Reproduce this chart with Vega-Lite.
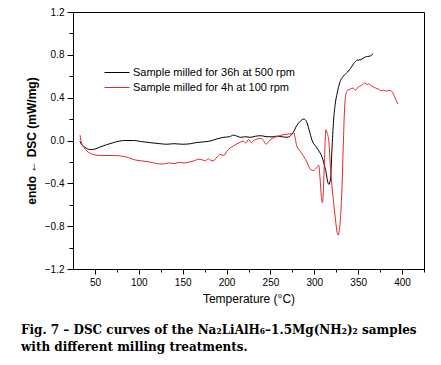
{
  "$schema": "https://vega.github.io/schema/vega-lite/v6.json",
  "width": 351,
  "height": 257,
  "autosize": "none",
  "padding": {"left": 73, "top": 12, "right": 17, "bottom": 96},
  "background": "white",
  "config": {
    "view": {"stroke": "black", "strokeWidth": 1},
    "axis": {"labelFont": "Liberation Sans", "titleFont": "Liberation Sans", "labelColor": "black", "titleColor": "black", "domainColor": "black", "tickColor": "black", "grid": false}
  },
  "title": {
    "text": ["Fig. 7 – DSC curves of the Na₂LiAlH₆–1.5Mg(NH₂)₂ samples", "with different milling treatments."],
    "orient": "bottom",
    "anchor": "start",
    "frame": "group",
    "font": "DejaVu Serif",
    "fontWeight": "bold",
    "fontSize": 12,
    "lineHeight": 17,
    "dx": -52,
    "offset": 21,
    "color": "black"
  },
  "data": {"values": [
    {"sample": "Sample milled for 36h at 500 rpm", "T": 33, "DSC": -0.01},
    {"sample": "Sample milled for 36h at 500 rpm", "T": 35, "DSC": -0.04},
    {"sample": "Sample milled for 36h at 500 rpm", "T": 38, "DSC": -0.06},
    {"sample": "Sample milled for 36h at 500 rpm", "T": 42, "DSC": -0.08},
    {"sample": "Sample milled for 36h at 500 rpm", "T": 46, "DSC": -0.085},
    {"sample": "Sample milled for 36h at 500 rpm", "T": 50, "DSC": -0.08},
    {"sample": "Sample milled for 36h at 500 rpm", "T": 56, "DSC": -0.06},
    {"sample": "Sample milled for 36h at 500 rpm", "T": 63, "DSC": -0.04},
    {"sample": "Sample milled for 36h at 500 rpm", "T": 71, "DSC": -0.02},
    {"sample": "Sample milled for 36h at 500 rpm", "T": 78, "DSC": -0.005},
    {"sample": "Sample milled for 36h at 500 rpm", "T": 85, "DSC": 0.0},
    {"sample": "Sample milled for 36h at 500 rpm", "T": 94, "DSC": 0.0},
    {"sample": "Sample milled for 36h at 500 rpm", "T": 103, "DSC": -0.01},
    {"sample": "Sample milled for 36h at 500 rpm", "T": 113, "DSC": -0.02},
    {"sample": "Sample milled for 36h at 500 rpm", "T": 124, "DSC": -0.03},
    {"sample": "Sample milled for 36h at 500 rpm", "T": 132, "DSC": -0.035},
    {"sample": "Sample milled for 36h at 500 rpm", "T": 140, "DSC": -0.03},
    {"sample": "Sample milled for 36h at 500 rpm", "T": 150, "DSC": -0.035},
    {"sample": "Sample milled for 36h at 500 rpm", "T": 159, "DSC": -0.03},
    {"sample": "Sample milled for 36h at 500 rpm", "T": 165, "DSC": -0.02},
    {"sample": "Sample milled for 36h at 500 rpm", "T": 172, "DSC": -0.015},
    {"sample": "Sample milled for 36h at 500 rpm", "T": 181, "DSC": -0.005},
    {"sample": "Sample milled for 36h at 500 rpm", "T": 189, "DSC": 0.015},
    {"sample": "Sample milled for 36h at 500 rpm", "T": 197, "DSC": 0.03},
    {"sample": "Sample milled for 36h at 500 rpm", "T": 203, "DSC": 0.035},
    {"sample": "Sample milled for 36h at 500 rpm", "T": 208, "DSC": 0.05},
    {"sample": "Sample milled for 36h at 500 rpm", "T": 212, "DSC": 0.04},
    {"sample": "Sample milled for 36h at 500 rpm", "T": 216, "DSC": 0.03},
    {"sample": "Sample milled for 36h at 500 rpm", "T": 222, "DSC": 0.035},
    {"sample": "Sample milled for 36h at 500 rpm", "T": 227, "DSC": 0.03},
    {"sample": "Sample milled for 36h at 500 rpm", "T": 233, "DSC": 0.04},
    {"sample": "Sample milled for 36h at 500 rpm", "T": 239, "DSC": 0.045},
    {"sample": "Sample milled for 36h at 500 rpm", "T": 246, "DSC": 0.035},
    {"sample": "Sample milled for 36h at 500 rpm", "T": 252, "DSC": 0.035},
    {"sample": "Sample milled for 36h at 500 rpm", "T": 257, "DSC": 0.04},
    {"sample": "Sample milled for 36h at 500 rpm", "T": 263, "DSC": 0.035},
    {"sample": "Sample milled for 36h at 500 rpm", "T": 269, "DSC": 0.03},
    {"sample": "Sample milled for 36h at 500 rpm", "T": 273, "DSC": 0.045},
    {"sample": "Sample milled for 36h at 500 rpm", "T": 276, "DSC": 0.075},
    {"sample": "Sample milled for 36h at 500 rpm", "T": 280, "DSC": 0.14},
    {"sample": "Sample milled for 36h at 500 rpm", "T": 284, "DSC": 0.18},
    {"sample": "Sample milled for 36h at 500 rpm", "T": 288, "DSC": 0.2},
    {"sample": "Sample milled for 36h at 500 rpm", "T": 291, "DSC": 0.18},
    {"sample": "Sample milled for 36h at 500 rpm", "T": 294, "DSC": 0.1},
    {"sample": "Sample milled for 36h at 500 rpm", "T": 297.5, "DSC": 0.0},
    {"sample": "Sample milled for 36h at 500 rpm", "T": 303, "DSC": -0.07},
    {"sample": "Sample milled for 36h at 500 rpm", "T": 309, "DSC": -0.16},
    {"sample": "Sample milled for 36h at 500 rpm", "T": 312.7, "DSC": -0.27},
    {"sample": "Sample milled for 36h at 500 rpm", "T": 316.5, "DSC": -0.41},
    {"sample": "Sample milled for 36h at 500 rpm", "T": 318.5, "DSC": -0.36},
    {"sample": "Sample milled for 36h at 500 rpm", "T": 320, "DSC": -0.1},
    {"sample": "Sample milled for 36h at 500 rpm", "T": 322, "DSC": 0.19},
    {"sample": "Sample milled for 36h at 500 rpm", "T": 324, "DSC": 0.35},
    {"sample": "Sample milled for 36h at 500 rpm", "T": 326, "DSC": 0.44},
    {"sample": "Sample milled for 36h at 500 rpm", "T": 329, "DSC": 0.54},
    {"sample": "Sample milled for 36h at 500 rpm", "T": 333, "DSC": 0.6},
    {"sample": "Sample milled for 36h at 500 rpm", "T": 338, "DSC": 0.64},
    {"sample": "Sample milled for 36h at 500 rpm", "T": 341, "DSC": 0.67},
    {"sample": "Sample milled for 36h at 500 rpm", "T": 345, "DSC": 0.72},
    {"sample": "Sample milled for 36h at 500 rpm", "T": 349, "DSC": 0.75},
    {"sample": "Sample milled for 36h at 500 rpm", "T": 353, "DSC": 0.755},
    {"sample": "Sample milled for 36h at 500 rpm", "T": 358, "DSC": 0.78},
    {"sample": "Sample milled for 36h at 500 rpm", "T": 361, "DSC": 0.785},
    {"sample": "Sample milled for 36h at 500 rpm", "T": 364, "DSC": 0.79},
    {"sample": "Sample milled for 36h at 500 rpm", "T": 367, "DSC": 0.81},
    {"sample": "Sample milled for 4h at 100 rpm", "T": 33, "DSC": 0.05},
    {"sample": "Sample milled for 4h at 100 rpm", "T": 34, "DSC": 0.0},
    {"sample": "Sample milled for 4h at 100 rpm", "T": 35.5, "DSC": -0.04},
    {"sample": "Sample milled for 4h at 100 rpm", "T": 38, "DSC": -0.07},
    {"sample": "Sample milled for 4h at 100 rpm", "T": 41, "DSC": -0.1},
    {"sample": "Sample milled for 4h at 100 rpm", "T": 45, "DSC": -0.12},
    {"sample": "Sample milled for 4h at 100 rpm", "T": 50, "DSC": -0.135},
    {"sample": "Sample milled for 4h at 100 rpm", "T": 57, "DSC": -0.14},
    {"sample": "Sample milled for 4h at 100 rpm", "T": 65, "DSC": -0.14},
    {"sample": "Sample milled for 4h at 100 rpm", "T": 72, "DSC": -0.14},
    {"sample": "Sample milled for 4h at 100 rpm", "T": 80, "DSC": -0.145},
    {"sample": "Sample milled for 4h at 100 rpm", "T": 88, "DSC": -0.16},
    {"sample": "Sample milled for 4h at 100 rpm", "T": 95, "DSC": -0.18},
    {"sample": "Sample milled for 4h at 100 rpm", "T": 103, "DSC": -0.19},
    {"sample": "Sample milled for 4h at 100 rpm", "T": 112, "DSC": -0.2},
    {"sample": "Sample milled for 4h at 100 rpm", "T": 120, "DSC": -0.215},
    {"sample": "Sample milled for 4h at 100 rpm", "T": 127, "DSC": -0.22},
    {"sample": "Sample milled for 4h at 100 rpm", "T": 134, "DSC": -0.21},
    {"sample": "Sample milled for 4h at 100 rpm", "T": 140, "DSC": -0.215},
    {"sample": "Sample milled for 4h at 100 rpm", "T": 146, "DSC": -0.205},
    {"sample": "Sample milled for 4h at 100 rpm", "T": 152, "DSC": -0.21},
    {"sample": "Sample milled for 4h at 100 rpm", "T": 158, "DSC": -0.2},
    {"sample": "Sample milled for 4h at 100 rpm", "T": 163, "DSC": -0.19},
    {"sample": "Sample milled for 4h at 100 rpm", "T": 168, "DSC": -0.175},
    {"sample": "Sample milled for 4h at 100 rpm", "T": 172, "DSC": -0.18},
    {"sample": "Sample milled for 4h at 100 rpm", "T": 176, "DSC": -0.19},
    {"sample": "Sample milled for 4h at 100 rpm", "T": 179, "DSC": -0.17},
    {"sample": "Sample milled for 4h at 100 rpm", "T": 182, "DSC": -0.185},
    {"sample": "Sample milled for 4h at 100 rpm", "T": 185, "DSC": -0.19},
    {"sample": "Sample milled for 4h at 100 rpm", "T": 189, "DSC": -0.155},
    {"sample": "Sample milled for 4h at 100 rpm", "T": 193, "DSC": -0.13},
    {"sample": "Sample milled for 4h at 100 rpm", "T": 197, "DSC": -0.14},
    {"sample": "Sample milled for 4h at 100 rpm", "T": 200, "DSC": -0.105},
    {"sample": "Sample milled for 4h at 100 rpm", "T": 204, "DSC": -0.07},
    {"sample": "Sample milled for 4h at 100 rpm", "T": 208, "DSC": -0.05},
    {"sample": "Sample milled for 4h at 100 rpm", "T": 212, "DSC": -0.03},
    {"sample": "Sample milled for 4h at 100 rpm", "T": 216, "DSC": -0.015},
    {"sample": "Sample milled for 4h at 100 rpm", "T": 219, "DSC": -0.005},
    {"sample": "Sample milled for 4h at 100 rpm", "T": 222, "DSC": -0.025},
    {"sample": "Sample milled for 4h at 100 rpm", "T": 225, "DSC": 0.01},
    {"sample": "Sample milled for 4h at 100 rpm", "T": 228, "DSC": -0.02},
    {"sample": "Sample milled for 4h at 100 rpm", "T": 231, "DSC": 0.0},
    {"sample": "Sample milled for 4h at 100 rpm", "T": 235, "DSC": 0.015},
    {"sample": "Sample milled for 4h at 100 rpm", "T": 239, "DSC": 0.02},
    {"sample": "Sample milled for 4h at 100 rpm", "T": 242, "DSC": 0.0},
    {"sample": "Sample milled for 4h at 100 rpm", "T": 245, "DSC": -0.035},
    {"sample": "Sample milled for 4h at 100 rpm", "T": 248, "DSC": -0.01},
    {"sample": "Sample milled for 4h at 100 rpm", "T": 251, "DSC": 0.015},
    {"sample": "Sample milled for 4h at 100 rpm", "T": 255, "DSC": 0.03},
    {"sample": "Sample milled for 4h at 100 rpm", "T": 260, "DSC": 0.045},
    {"sample": "Sample milled for 4h at 100 rpm", "T": 265, "DSC": 0.055},
    {"sample": "Sample milled for 4h at 100 rpm", "T": 270, "DSC": 0.06},
    {"sample": "Sample milled for 4h at 100 rpm", "T": 274, "DSC": 0.065},
    {"sample": "Sample milled for 4h at 100 rpm", "T": 276.5, "DSC": 0.075},
    {"sample": "Sample milled for 4h at 100 rpm", "T": 278, "DSC": 0.03},
    {"sample": "Sample milled for 4h at 100 rpm", "T": 280, "DSC": -0.05},
    {"sample": "Sample milled for 4h at 100 rpm", "T": 284, "DSC": -0.1},
    {"sample": "Sample milled for 4h at 100 rpm", "T": 288, "DSC": -0.15},
    {"sample": "Sample milled for 4h at 100 rpm", "T": 292, "DSC": -0.21},
    {"sample": "Sample milled for 4h at 100 rpm", "T": 295.5, "DSC": -0.27},
    {"sample": "Sample milled for 4h at 100 rpm", "T": 299, "DSC": -0.28},
    {"sample": "Sample milled for 4h at 100 rpm", "T": 301, "DSC": -0.27},
    {"sample": "Sample milled for 4h at 100 rpm", "T": 303, "DSC": -0.25},
    {"sample": "Sample milled for 4h at 100 rpm", "T": 305, "DSC": -0.23},
    {"sample": "Sample milled for 4h at 100 rpm", "T": 306.5, "DSC": -0.35},
    {"sample": "Sample milled for 4h at 100 rpm", "T": 308, "DSC": -0.52},
    {"sample": "Sample milled for 4h at 100 rpm", "T": 309, "DSC": -0.58},
    {"sample": "Sample milled for 4h at 100 rpm", "T": 310, "DSC": -0.52},
    {"sample": "Sample milled for 4h at 100 rpm", "T": 311.5, "DSC": -0.2},
    {"sample": "Sample milled for 4h at 100 rpm", "T": 313.2, "DSC": 0.1},
    {"sample": "Sample milled for 4h at 100 rpm", "T": 314.5, "DSC": 0.07},
    {"sample": "Sample milled for 4h at 100 rpm", "T": 316.5, "DSC": 0.0},
    {"sample": "Sample milled for 4h at 100 rpm", "T": 318, "DSC": -0.2},
    {"sample": "Sample milled for 4h at 100 rpm", "T": 320, "DSC": -0.42},
    {"sample": "Sample milled for 4h at 100 rpm", "T": 322, "DSC": -0.58},
    {"sample": "Sample milled for 4h at 100 rpm", "T": 324, "DSC": -0.73},
    {"sample": "Sample milled for 4h at 100 rpm", "T": 326, "DSC": -0.86},
    {"sample": "Sample milled for 4h at 100 rpm", "T": 327, "DSC": -0.885},
    {"sample": "Sample milled for 4h at 100 rpm", "T": 328.5, "DSC": -0.84},
    {"sample": "Sample milled for 4h at 100 rpm", "T": 330, "DSC": -0.7},
    {"sample": "Sample milled for 4h at 100 rpm", "T": 331.5, "DSC": -0.45},
    {"sample": "Sample milled for 4h at 100 rpm", "T": 333, "DSC": -0.05},
    {"sample": "Sample milled for 4h at 100 rpm", "T": 334.5, "DSC": 0.3},
    {"sample": "Sample milled for 4h at 100 rpm", "T": 336, "DSC": 0.43},
    {"sample": "Sample milled for 4h at 100 rpm", "T": 338, "DSC": 0.47},
    {"sample": "Sample milled for 4h at 100 rpm", "T": 341, "DSC": 0.48},
    {"sample": "Sample milled for 4h at 100 rpm", "T": 344, "DSC": 0.49},
    {"sample": "Sample milled for 4h at 100 rpm", "T": 347, "DSC": 0.47},
    {"sample": "Sample milled for 4h at 100 rpm", "T": 350, "DSC": 0.5},
    {"sample": "Sample milled for 4h at 100 rpm", "T": 353, "DSC": 0.51},
    {"sample": "Sample milled for 4h at 100 rpm", "T": 356, "DSC": 0.53},
    {"sample": "Sample milled for 4h at 100 rpm", "T": 358, "DSC": 0.54},
    {"sample": "Sample milled for 4h at 100 rpm", "T": 360, "DSC": 0.52},
    {"sample": "Sample milled for 4h at 100 rpm", "T": 362, "DSC": 0.53},
    {"sample": "Sample milled for 4h at 100 rpm", "T": 364, "DSC": 0.52},
    {"sample": "Sample milled for 4h at 100 rpm", "T": 367, "DSC": 0.5},
    {"sample": "Sample milled for 4h at 100 rpm", "T": 370, "DSC": 0.49},
    {"sample": "Sample milled for 4h at 100 rpm", "T": 373, "DSC": 0.48},
    {"sample": "Sample milled for 4h at 100 rpm", "T": 376, "DSC": 0.465},
    {"sample": "Sample milled for 4h at 100 rpm", "T": 379, "DSC": 0.47},
    {"sample": "Sample milled for 4h at 100 rpm", "T": 382, "DSC": 0.46},
    {"sample": "Sample milled for 4h at 100 rpm", "T": 385, "DSC": 0.47},
    {"sample": "Sample milled for 4h at 100 rpm", "T": 388, "DSC": 0.46},
    {"sample": "Sample milled for 4h at 100 rpm", "T": 391, "DSC": 0.42},
    {"sample": "Sample milled for 4h at 100 rpm", "T": 393, "DSC": 0.38},
    {"sample": "Sample milled for 4h at 100 rpm", "T": 395.5, "DSC": 0.34}
  ]},
  "mark": {"type": "line", "strokeWidth": 1, "interpolate": "monotone"},
  "encoding": {
    "x": {
      "field": "T", "type": "quantitative",
      "scale": {"domain": [25, 425], "nice": false},
      "axis": {
        "title": "Temperature (°C)",
        "titleFontSize": 12, "titleFontWeight": "normal", "titlePadding": 6,
        "values": [50, 75, 100, 125, 150, 175, 200, 225, 250, 275, 300, 325, 350, 375, 400, 425],
        "labelExpr": "datum.value % 50 === 0 ? datum.label : ''",
        "labelFontSize": 10, "labelPadding": 3,
        "tickSize": {"condition": {"test": "datum.value % 50 === 0", "value": 5}, "value": 3},
        "labelFlush": false
      }
    },
    "y": {
      "field": "DSC", "type": "quantitative",
      "scale": {"domain": [-1.2, 1.2], "nice": false},
      "axis": {
        "title": "endo ← DSC (mW/mg)",
        "titleFontSize": 12, "titleFontWeight": "bold", "titlePadding": 6,
        "values": [-1.2, -1.0, -0.8, -0.6, -0.4, -0.2, 0, 0.2, 0.4, 0.6, 0.8, 1.0, 1.2],
        "labelExpr": "abs(round(datum.value * 10)) % 4 === 0 ? format(datum.value, '.1f') : ''",
        "labelFontSize": 10, "labelPadding": 3,
        "tickSize": {"condition": {"test": "abs(round(datum.value * 10)) % 4 === 0", "value": 6}, "value": 4},
        "labelFlush": false
      }
    },
    "color": {
      "field": "sample", "type": "nominal",
      "scale": {"domain": ["Sample milled for 36h at 500 rpm", "Sample milled for 4h at 100 rpm"], "range": ["#000000", "#e3262b"]},
      "legend": {
        "title": null, "orient": "none", "legendX": 31, "legendY": 53,
        "symbolType": "stroke", "symbolSize": 625, "symbolStrokeWidth": 1,
        "labelFont": "Liberation Sans", "labelFontSize": 11, "labelColor": "black",
        "labelOffset": 3, "rowPadding": 0, "clipHeight": 15, "labelLimit": 300
      }
    }
  }
}
